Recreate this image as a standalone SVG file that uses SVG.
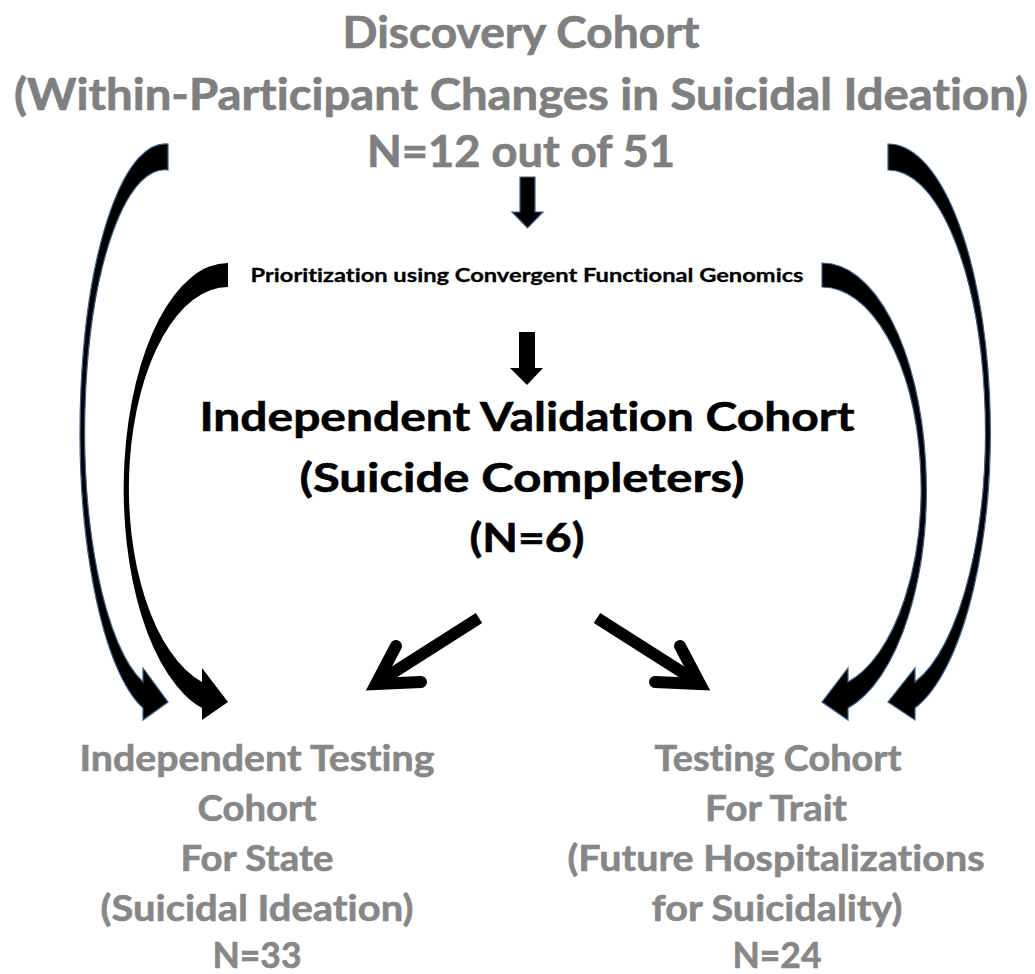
<svg xmlns="http://www.w3.org/2000/svg" width="1035" height="974" viewBox="0 0 1035 974">
<style>
text{font-family:Lato,"Open Sans","Liberation Sans",sans-serif;font-weight:bold;text-anchor:middle;font-variant-ligatures:none;font-feature-settings:"liga" 0,"dlig" 0}
.top{fill:#7f7f7f;stroke:#7f7f7f;stroke-width:0.7;font-size:43px}
.mid{fill:#000;stroke:#000;stroke-width:0.6;font-size:41px}
.bot{fill:#878787;stroke:#878787;stroke-width:0.6;font-size:36px}
.small{fill:#000;stroke:#000;stroke-width:0.3;font-size:19px}
.arr{fill:#000}
.blue{stroke:#3a6190;stroke-width:1.2}
.diag{fill:none;stroke:#000;stroke-width:12}
</style>
<rect width="1035" height="974" fill="#fff"/>
<g id="discovery">
<text class="top" x="521" y="48" textLength="357" lengthAdjust="spacingAndGlyphs">Discovery Cohort</text>
<text class="top" x="521" y="110" textLength="1014" lengthAdjust="spacingAndGlyphs">(Within-Participant Changes in Suicidal Ideation)</text>
<text class="top" x="521" y="167" textLength="308" lengthAdjust="spacingAndGlyphs">N=12 out of 51</text>
</g>
<g id="prioritization">
<text class="small" x="527" y="282" textLength="553" lengthAdjust="spacingAndGlyphs">Prioritization using Convergent Functional Genomics</text>
</g>
<g id="validation">
<text class="mid" x="527" y="431" textLength="655" lengthAdjust="spacingAndGlyphs">Independent Validation Cohort</text>
<text class="mid" x="522" y="492" textLength="445" lengthAdjust="spacingAndGlyphs">(Suicide Completers)</text>
<text class="mid" x="527" y="552" textLength="115" lengthAdjust="spacingAndGlyphs">(N=6)</text>
</g>
<g id="testing-state">
<text class="bot" x="257" y="771" textLength="355" lengthAdjust="spacingAndGlyphs">Independent Testing</text>
<text class="bot" x="257" y="821" textLength="119" lengthAdjust="spacingAndGlyphs">Cohort</text>
<text class="bot" x="257" y="871" textLength="153" lengthAdjust="spacingAndGlyphs">For State</text>
<text class="bot" x="257" y="921" textLength="313" lengthAdjust="spacingAndGlyphs">(Suicidal Ideation)</text>
<text class="bot" x="257" y="968" textLength="89" lengthAdjust="spacingAndGlyphs">N=33</text>
</g>
<g id="testing-trait">
<text class="bot" x="778" y="771" textLength="247" lengthAdjust="spacingAndGlyphs">Testing Cohort</text>
<text class="bot" x="776" y="821" textLength="142" lengthAdjust="spacingAndGlyphs">For Trait</text>
<text class="bot" x="776" y="871" textLength="417" lengthAdjust="spacingAndGlyphs">(Future Hospitalizations</text>
<text class="bot" x="777" y="921" textLength="251" lengthAdjust="spacingAndGlyphs">for Suicidality)</text>
<text class="bot" x="777" y="968" textLength="89" lengthAdjust="spacingAndGlyphs">N=24</text>
</g>
<g id="connectors">
<polygon class="arr blue" points="520,177 535,177 535,212 543,212 527.5,228 512,212 520,212"/>
<polygon class="arr" points="519,332 535,332 535,368 543,368 527,385 510,368 519,368"/>
<path class="arr blue" d="M168,144 A85 287 0 0 0 143,708 L143,720 L168,702 L143,668 L143,682 A80 261 0 0 1 168,170 Z"/>
<path class="arr" d="M228,263 A104 226 0 0 0 202,708 L202,720 L228,702 L202,668 L202,682 A99 201 0 0 1 228,287 Z"/>
<path class="arr blue" d="M822,263 A104 226 0 0 1 848,708 L848,720 L822,702 L848,668 L848,682 A99 201 0 0 0 822,287 Z"/>
<path class="arr blue" d="M888,144 A102 287 0 0 1 915,708 L915,720 L888,702 L915,668 L915,682 A97 261 0 0 0 888,170 Z"/>
<line class="diag" x1="479" y1="618" x2="380" y2="681"/>
<polyline class="diag" points="396,646 376,684 421,682" stroke-linecap="round" stroke-linejoin="miter"/>
<line class="diag" x1="597" y1="618" x2="696" y2="681"/>
<polyline class="diag" points="680,646 700,684 655,682" stroke-linecap="round" stroke-linejoin="miter"/>
</g>
</svg>
